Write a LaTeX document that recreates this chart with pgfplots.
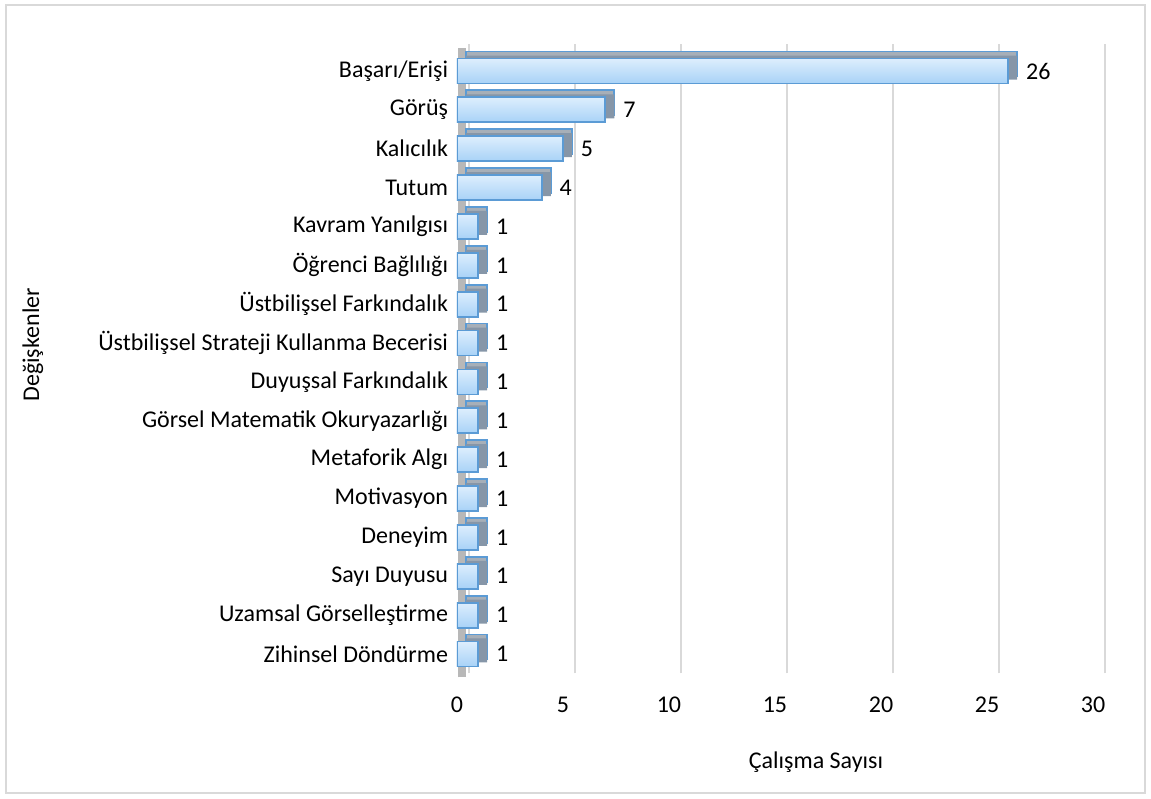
\documentclass[border=0pt]{standalone}
\usepackage{pgfplots}
\pgfplotsset{compat=1.18}
\usepackage{pgfplotstable}
\usepackage{fontspec}
\setmainfont{Carlito}
\definecolor{gridc}{HTML}{D9D9D9}
\definecolor{edgeb}{HTML}{5B9BD5}
\definecolor{facetop}{HTML}{DDEEFD}
\definecolor{facebot}{HTML}{A8D2F7}
\definecolor{topg}{HTML}{A7AFB8}
\definecolor{sideg}{HTML}{8696A8}
\definecolor{wallg}{HTML}{B8B8B8}
\pgfplotstableread{
y v
0 1
1 1
2 1
3 1
4 1
5 1
6 1
7 1
8 1
9 1
10 1
11 1
12 4
13 5
14 7
15 26
}\datatab
\pgfplotsset{front/.style={bar shift=0pt, top color=facetop, bottom color=facebot, draw=edgeb, line width=0.9pt,
  nodes near coords, nodes near coords style={anchor=west, inner sep=0pt, xshift=8.5pt, font=\fontsize{12}{14}\selectfont, text=black}}}
\begin{document}
\begin{tikzpicture}
\begin{axis}[
  at={(0,0)}, anchor=south west,
  scale only axis, width=318pt, height=314.8pt,
  xbar, xmin=0, xmax=30, ymin=-0.6, ymax=15.6,
  xtick={0,5,...,30},
  ytick={0,...,15},
  yticklabels={Zihinsel Döndürme,Uzamsal Görselleştirme,Sayı Duyusu,Deneyim,Motivasyon,Metaforik Algı,Görsel Matematik Okuryazarlığı,Duyuşsal Farkındalık,Üstbilişsel Strateji Kullanma Becerisi,Üstbilişsel Farkındalık,Öğrenci Bağlılığı,Kavram Yanılgısı,Tutum,Kalıcılık,Görüş,Başarı/Erişi},
  /pgf/number format/assume math mode=true,
  tick style={draw=none},
  axis line style={draw=none},
  xmajorgrids,
  major grid style={draw=gridc, line width=0.75pt, xshift=6pt, yshift=2pt},
  extra x ticks={0}, extra x tick labels={},
  extra x tick style={major grid style={draw=wallg, line width=4pt, xshift=-3.5pt, yshift=-2pt}},
  ticklabel style={font=\fontsize{12}{14}\selectfont},
  xticklabel style={anchor=center, yshift=-13.85pt},
  yticklabel style={anchor=east, inner sep=0pt, xshift=0pt},
  xlabel={Çalışma Sayısı},
  xlabel style={at={(axis description cs:0.5645,-0.1345)}, anchor=center, font=\fontsize{12}{14}\selectfont},
  ylabel={Değişkenler},
  ylabel style={at={(axis description cs:-0.6667,0.528)}, anchor=center, rotate=0, font=\fontsize{12}{14}\selectfont},
  bar width=12.5pt,
]
\addplot[bar shift=0pt, fill=topg, draw=edgeb, line width=0.9pt, xshift=4.5pt, yshift=3.5pt] table[x=v,y=y] {\datatab};
\addplot[bar shift=0pt, fill=sideg, draw=none, xshift=4.5pt, yshift=1.75pt, bar width=12pt] table[x=v,y=y] {\datatab};
\addplot[front] coordinates {(1,0)};
\addplot[front] coordinates {(1,1)};
\addplot[front] coordinates {(1,2)};
\addplot[front] coordinates {(1,3)};
\addplot[front] coordinates {(1,4)};
\addplot[front] coordinates {(1,5)};
\addplot[front] coordinates {(1,6)};
\addplot[front] coordinates {(1,7)};
\addplot[front] coordinates {(1,8)};
\addplot[front] coordinates {(1,9)};
\addplot[front] coordinates {(1,10)};
\addplot[front] coordinates {(1,11)};
\addplot[front] coordinates {(4,12)};
\addplot[front] coordinates {(5,13)};
\addplot[front] coordinates {(7,14)};
\addplot[front] coordinates {(26,15)};
\end{axis}
\draw[color=gridc, line width=0.75pt] (-225.5pt,-57.85pt) rectangle (344pt,336.15pt);
\pgfresetboundingbox
\path[use as bounding box] (-228.5pt,-60.35pt) rectangle (347pt,338.65pt);
\end{tikzpicture}
\end{document}
